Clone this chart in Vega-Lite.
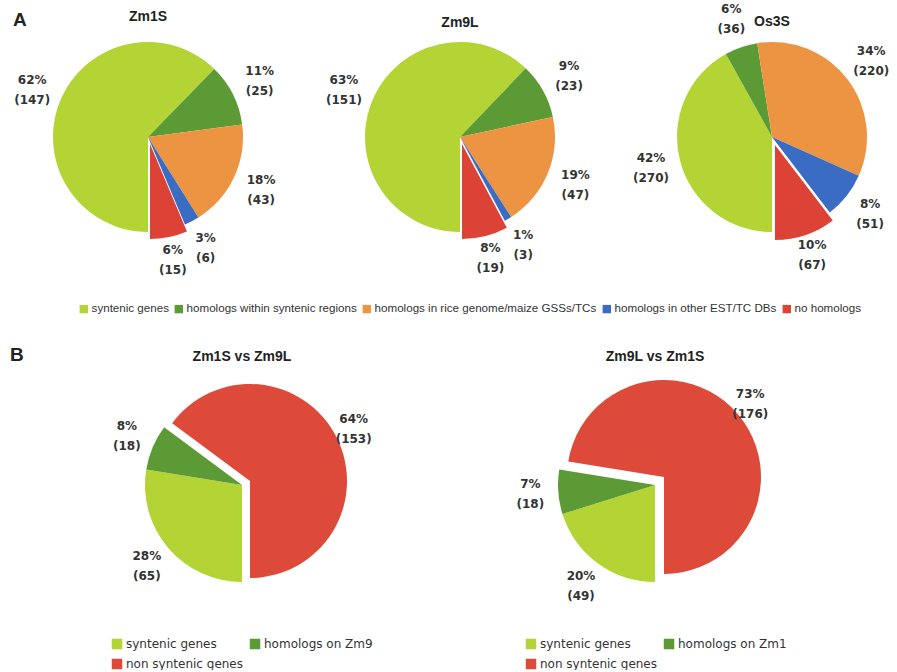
{
  "$schema": "https://vega.github.io/schema/vega-lite/v6.json",
  "background": "white",
  "padding": {"left": 10, "top": 0, "right": 0, "bottom": 0},
  "bounds": "flush",
  "config": {
    "view": {"stroke": null},
    "font": "Liberation Sans",
    "title": {"font": "Liberation Sans", "fontWeight": "bold", "fontSize": 14, "color": "#222"},
    "legend": {"symbolType": "square", "labelColor": "#333", "title": null, "labelLimit": 0}
  },
  "spacing": 345,
  "resolve": {"scale": {"color": "independent"}, "legend": {"color": "independent"}},
  "vconcat": [
    {
      "title": {"text": "A", "anchor": "start", "frame": "group", "fontSize": 19, "dx": -10, "offset": -30},
      "spacing": 62,
      "bounds": "flush",
      "hconcat": [
        {
          "width": 250, "height": 274,
          "title": {"text": "Zm1S", "offset": -24},
          "data": {"values": [
            {"i": 1, "g": "syntenic genes", "n": 147, "p": "62%", "c": "(147)"},
            {"i": 2, "g": "homologs within syntenic regions", "n": 25, "p": "11%", "c": "(25)"},
            {"i": 3, "g": "homologs in rice genome/maize GSSs/TCs", "n": 43, "p": "18%", "c": "(43)"},
            {"i": 4, "g": "homologs in other EST/TC DBs", "n": 6, "p": "3%", "c": "(6)"},
            {"i": 5, "g": "no homologs", "n": 15, "p": "6%", "c": "(15)"}
          ]},
          "encoding": {
            "theta": {"field": "n", "type": "quantitative", "stack": true, "scale": {"range": [3.14159265, 9.42477796]}},
            "order": {"field": "i", "type": "quantitative"}
          },
          "layer": [
            {
              "mark": {"type": "arc", "radius": 95, "xOffset": {"expr": "datum.g == 'no homologs' ? 2 : 0"}, "yOffset": {"expr": "datum.g == 'no homologs' ? 7 : 0"}},
              "encoding": {
                "color": {"field": "g", "type": "nominal",
                  "scale": {"domain": ["syntenic genes", "homologs within syntenic regions", "homologs in rice genome/maize GSSs/TCs", "homologs in other EST/TC DBs", "no homologs"],
                            "range": ["#b4d334", "#5b9a35", "#ec9442", "#3a6cc4", "#dc4336"]},
                  "legend": {"orient": "none", "legendX": 55, "legendY": 303, "direction": "horizontal", "labelFontSize": 11.6, "symbolSize": 70, "labelOffset": 2, "columnPadding": 4, "symbolStrokeWidth": 0}}
              }
            },
            {
              "mark": {"type": "text", "radius": 125, "dy": -10, "font": "DejaVu Sans", "fontWeight": "bold", "fontSize": 12, "color": "#333"},
              "encoding": {"text": {"field": "p"}, "detail": {"field": "g"}}
            },
            {
              "mark": {"type": "text", "radius": 125, "dy": 10, "font": "DejaVu Sans", "fontWeight": "bold", "fontSize": 12, "color": "#333"},
              "encoding": {"text": {"field": "c"}, "detail": {"field": "g"}}
            }
          ]
        },
        {
          "width": 250, "height": 274,
          "title": {"text": "Zm9L", "offset": -30},
          "data": {"values": [
            {"i": 1, "g": "syntenic genes", "n": 151, "p": "63%", "c": "(151)"},
            {"i": 2, "g": "homologs within syntenic regions", "n": 23, "p": "9%", "c": "(23)"},
            {"i": 3, "g": "homologs in rice genome/maize GSSs/TCs", "n": 47, "p": "19%", "c": "(47)"},
            {"i": 4, "g": "homologs in other EST/TC DBs", "n": 3, "p": "1%", "c": "(3)"},
            {"i": 5, "g": "no homologs", "n": 19, "p": "8%", "c": "(19)"}
          ]},
          "encoding": {
            "theta": {"field": "n", "type": "quantitative", "stack": true, "scale": {"range": [3.14159265, 9.42477796]}},
            "order": {"field": "i", "type": "quantitative"}
          },
          "layer": [
            {
              "mark": {"type": "arc", "radius": 95, "xOffset": {"expr": "datum.g == 'no homologs' ? 2 : 0"}, "yOffset": {"expr": "datum.g == 'no homologs' ? 7 : 0"}},
              "encoding": {
                "color": {"field": "g", "type": "nominal",
                  "scale": {"domain": ["syntenic genes", "homologs within syntenic regions", "homologs in rice genome/maize GSSs/TCs", "homologs in other EST/TC DBs", "no homologs"],
                            "range": ["#b4d334", "#5b9a35", "#ec9442", "#3a6cc4", "#dc4336"]},
                  "legend": {"orient": "none", "legendX": 55, "legendY": 303, "direction": "horizontal", "labelFontSize": 11.6, "symbolSize": 70, "labelOffset": 2, "columnPadding": 4, "symbolStrokeWidth": 0}}
              }
            },
            {
              "mark": {"type": "text", "radius": 125, "dy": -10, "font": "DejaVu Sans", "fontWeight": "bold", "fontSize": 12, "color": "#333"},
              "encoding": {"text": {"field": "p"}, "detail": {"field": "g"}}
            },
            {
              "mark": {"type": "text", "radius": 125, "dy": 10, "font": "DejaVu Sans", "fontWeight": "bold", "fontSize": 12, "color": "#333"},
              "encoding": {"text": {"field": "c"}, "detail": {"field": "g"}}
            }
          ]
        },
        {
          "width": 250, "height": 274,
          "title": {"text": "Os3S", "offset": -29},
          "data": {"values": [
            {"i": 1, "g": "syntenic genes", "n": 270, "p": "42%", "c": "(270)"},
            {"i": 2, "g": "homologs within syntenic regions", "n": 36, "p": "6%", "c": "(36)"},
            {"i": 3, "g": "homologs in rice genome/maize GSSs/TCs", "n": 220, "p": "34%", "c": "(220)"},
            {"i": 4, "g": "homologs in other EST/TC DBs", "n": 51, "p": "8%", "c": "(51)"},
            {"i": 5, "g": "no homologs", "n": 67, "p": "10%", "c": "(67)"}
          ]},
          "encoding": {
            "theta": {"field": "n", "type": "quantitative", "stack": true, "scale": {"range": [3.14159265, 9.42477796]}},
            "order": {"field": "i", "type": "quantitative"}
          },
          "layer": [
            {
              "mark": {"type": "arc", "radius": 95, "xOffset": {"expr": "datum.g == 'no homologs' ? 3 : 0"}, "yOffset": {"expr": "datum.g == 'no homologs' ? 8 : 0"}},
              "encoding": {
                "color": {"field": "g", "type": "nominal",
                  "scale": {"domain": ["syntenic genes", "homologs within syntenic regions", "homologs in rice genome/maize GSSs/TCs", "homologs in other EST/TC DBs", "no homologs"],
                            "range": ["#b4d334", "#5b9a35", "#ec9442", "#3a6cc4", "#dc4336"]},
                  "legend": {"orient": "none", "legendX": 55, "legendY": 303, "direction": "horizontal", "labelFontSize": 11.6, "symbolSize": 70, "labelOffset": 2, "columnPadding": 4, "symbolStrokeWidth": 0}}
              }
            },
            {
              "mark": {"type": "text", "radius": 125, "dy": -10, "font": "DejaVu Sans", "fontWeight": "bold", "fontSize": 12, "color": "#333"},
              "encoding": {"text": {"field": "p"}, "detail": {"field": "g"}}
            },
            {
              "mark": {"type": "text", "radius": 125, "dy": 10, "font": "DejaVu Sans", "fontWeight": "bold", "fontSize": 12, "color": "#333"},
              "encoding": {"text": {"field": "c"}, "detail": {"field": "g"}}
            }
          ]
        }
      ]
    },
    {
      "title": {"text": "B", "anchor": "start", "frame": "group", "fontSize": 19, "dx": -13, "offset": -20},
      "spacing": 0,
      "bounds": "flush",
      "resolve": {"scale": {"color": "independent"}, "legend": {"color": "independent"}},
      "hconcat": [
        {
          "width": 438, "height": 280,
          "title": {"text": "Zm1S vs Zm9L", "offset": -19},
          "data": {"values": [
            {"i": 1, "g": "syntenic genes", "n": 65, "p": "28%", "c": "(65)"},
            {"i": 2, "g": "homologs on Zm9", "n": 18, "p": "8%", "c": "(18)"},
            {"i": 3, "g": "non syntenic genes", "n": 153, "p": "64%", "c": "(153)"}
          ]},
          "encoding": {
            "theta": {"field": "n", "type": "quantitative", "stack": true, "scale": {"range": [3.14159265, 9.42477796]}},
            "order": {"field": "i", "type": "quantitative"}
          },
          "layer": [
            {
              "mark": {"type": "arc", "radius": 97, "xOffset": {"expr": "datum.g == 'non syntenic genes' ? 8 : 0"}, "yOffset": {"expr": "datum.g == 'non syntenic genes' ? -4 : 0"}},
              "encoding": {
                "color": {"field": "g", "type": "nominal",
                  "scale": {"domain": ["syntenic genes", "homologs on Zm9", "non syntenic genes"], "range": ["#b4d334", "#5b9a35", "#dd4a3a"]},
                  "legend": {"orient": "none", "legendX": 88, "legendY": 293, "columns": 2, "values": ["syntenic genes", "non syntenic genes", "homologs on Zm9"], "labelFont": "DejaVu Sans", "labelFontSize": 12, "symbolSize": 110, "labelOffset": 3, "columnPadding": 5, "rowPadding": 8, "symbolStrokeWidth": 0}}
              }
            },
            {
              "mark": {"type": "text", "radius": 125, "dy": -10, "font": "DejaVu Sans", "fontWeight": "bold", "fontSize": 12, "color": "#333"},
              "encoding": {"text": {"field": "p"}, "detail": {"field": "g"}}
            },
            {
              "mark": {"type": "text", "radius": 125, "dy": 10, "font": "DejaVu Sans", "fontWeight": "bold", "fontSize": 12, "color": "#333"},
              "encoding": {"text": {"field": "c"}, "detail": {"field": "g"}}
            }
          ]
        },
        {
          "width": 388, "height": 280,
          "title": {"text": "Zm9L vs Zm1S", "offset": -19},
          "data": {"values": [
            {"i": 1, "g": "syntenic genes", "n": 49, "p": "20%", "c": "(49)"},
            {"i": 2, "g": "homologs on Zm1", "n": 18, "p": "7%", "c": "(18)"},
            {"i": 3, "g": "non syntenic genes", "n": 176, "p": "73%", "c": "(176)"}
          ]},
          "encoding": {
            "theta": {"field": "n", "type": "quantitative", "stack": true, "scale": {"range": [3.14159265, 9.42477796]}},
            "order": {"field": "i", "type": "quantitative"}
          },
          "layer": [
            {
              "mark": {"type": "arc", "radius": 97, "xOffset": {"expr": "datum.g == 'non syntenic genes' ? 9 : 0"}, "yOffset": {"expr": "datum.g == 'non syntenic genes' ? -8 : 0"}},
              "encoding": {
                "color": {"field": "g", "type": "nominal",
                  "scale": {"domain": ["syntenic genes", "homologs on Zm1", "non syntenic genes"], "range": ["#b4d334", "#5b9a35", "#dd4a3a"]},
                  "legend": {"orient": "none", "legendX": 64, "legendY": 293, "columns": 2, "values": ["syntenic genes", "non syntenic genes", "homologs on Zm1"], "labelFont": "DejaVu Sans", "labelFontSize": 12, "symbolSize": 110, "labelOffset": 3, "columnPadding": 5, "rowPadding": 8, "symbolStrokeWidth": 0}}
              }
            },
            {
              "mark": {"type": "text", "radius": 125, "dy": -10, "font": "DejaVu Sans", "fontWeight": "bold", "fontSize": 12, "color": "#333"},
              "encoding": {"text": {"field": "p"}, "detail": {"field": "g"}}
            },
            {
              "mark": {"type": "text", "radius": 125, "dy": 10, "font": "DejaVu Sans", "fontWeight": "bold", "fontSize": 12, "color": "#333"},
              "encoding": {"text": {"field": "c"}, "detail": {"field": "g"}}
            }
          ]
        }
      ]
    }
  ]
}
